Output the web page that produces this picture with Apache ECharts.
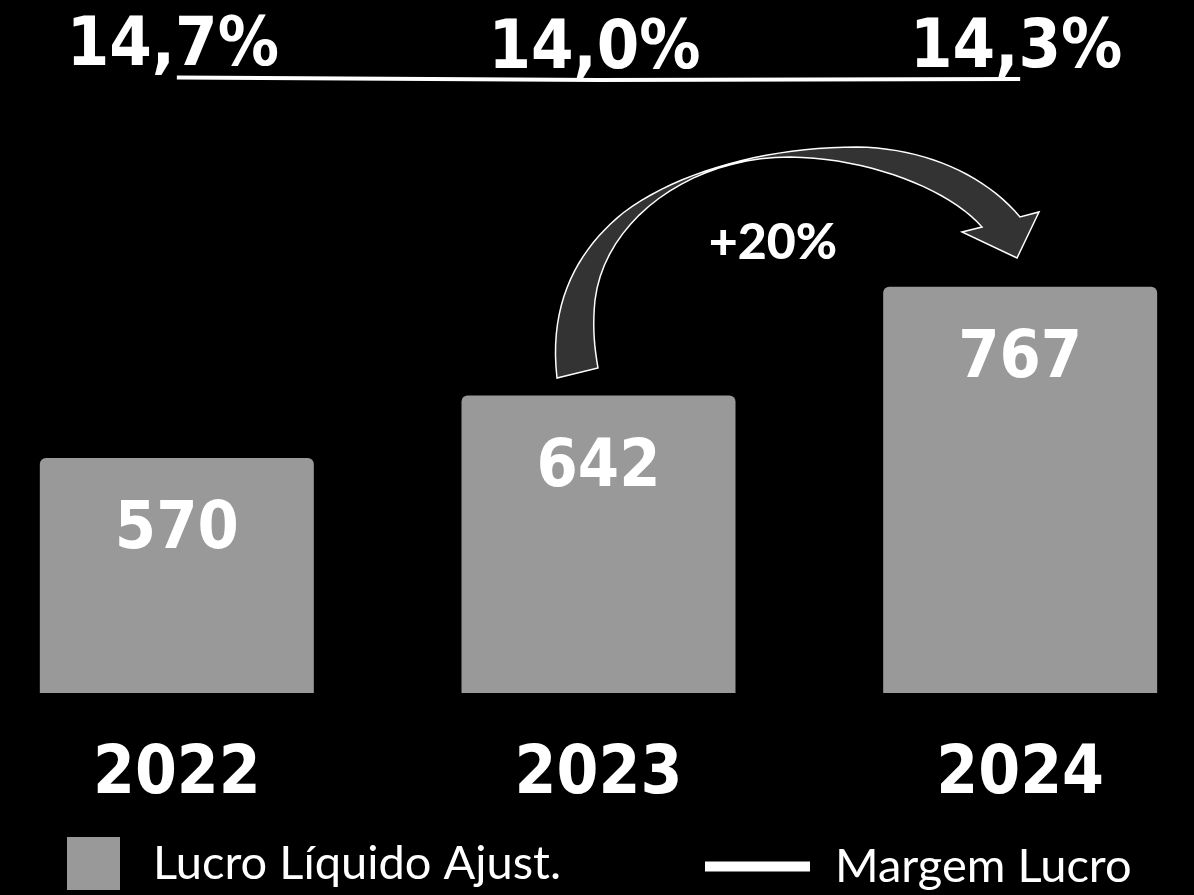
<!DOCTYPE html>
<html>
<head>
<meta charset="utf-8">
<script src="https://cdn.jsdelivr.net/npm/echarts@6/dist/echarts.min.js"></script>
<style>
  html, body { margin: 0; padding: 0; background: #000; }
  #chart { width: 1194px; height: 895px; }
</style>
</head>
<body>
<div id="chart"></div>
<script>
// dados
var anos = ["2022", "2023", "2024"];
var lucroLiquido = [570, 642, 767];
var margemLucro = [14.7, 14.0, 14.3];
var crescimento = "+20%";

var numFont = "'DejaVu Sans Condensed', 'DejaVu Sans', sans-serif";

// seta curva (decoração) - curvas de bezier amostradas em pontos
function bezier(p0, p1, p2, p3, n) {
  var pts = [];
  for (var i = 1; i <= n; i++) {
    var t = i / n, u = 1 - t;
    pts.push([
      u * u * u * p0[0] + 3 * u * u * t * p1[0] + 3 * u * t * t * p2[0] + t * t * t * p3[0],
      u * u * u * p0[1] + 3 * u * u * t * p1[1] + 3 * u * t * t * p2[1] + t * t * t * p3[1]
    ]);
  }
  return pts;
}
var seta = [[557, 378]]
  .concat(bezier([557, 378], [548, 300], [580, 248], [623, 213], 20))
  .concat(bezier([623, 213], [680, 170], [770, 147], [857, 147], 20))
  .concat(bezier([857, 147], [925, 148], [985, 175], [1020, 217], 20))
  .concat([[1039, 212], [1017, 258], [962, 232], [982, 227]])
  .concat(bezier([982, 227], [950, 190], [870, 158], [790, 157], 20))
  .concat(bezier([790, 157], [690, 157], [605, 220], [595, 300], 20))
  .concat(bezier([595, 300], [592, 330], [595, 350], [598, 368], 10));

var myChart = echarts.init(document.getElementById("chart"));
myChart.setOption({
  backgroundColor: "#000",
  animation: false,
  grid: [
    { left: -34, right: -37, top: 84, bottom: 202, outerBoundsMode: "none", containLabel: false },
    { left: -34, right: -37, top: 30, height: 100, outerBoundsMode: "none", containLabel: false }
  ],
  xAxis: [
    {
      type: "category",
      gridIndex: 0,
      data: anos,
      axisLine: { show: false },
      axisTick: { show: false },
      axisLabel: {
        color: "#fff",
        fontFamily: numFont,
        fontWeight: "bold",
        fontSize: 67,
        margin: 49
      }
    },
    {
      type: "category",
      gridIndex: 1,
      data: anos,
      show: false
    }
  ],
  yAxis: [
    { type: "value", gridIndex: 0, min: 300, max: 1000, show: false },
    { type: "value", gridIndex: 1, min: 0, max: 28, show: false }
  ],
  legend: [
    {
      data: ["Lucro Líquido Ajust."],
      left: 62,
      top: 832,
      icon: "rect",
      itemWidth: 53,
      itemHeight: 53,
      textStyle: { color: "#fff", fontFamily: "Lato", fontSize: 47, padding: [0, 0, 0, 28] }
    },
    {
      data: ["Margem Lucro"],
      left: 700,
      top: 838,
      icon: "rect",
      itemWidth: 105,
      itemHeight: 10,
      textStyle: { color: "#fff", fontFamily: "Lato", fontSize: 47, padding: [0, 0, 0, 20] }
    }
  ],
  series: [
    {
      name: "Lucro Líquido Ajust.",
      type: "bar",
      xAxisIndex: 0,
      yAxisIndex: 0,
      barWidth: 274,
      itemStyle: { color: "#999999", borderRadius: [6, 6, 0, 0] },
      label: {
        show: true,
        position: "insideTop",
        distance: 40,
        color: "#fff",
        fontFamily: numFont,
        fontWeight: "bold",
        fontSize: 66
      },
      data: lucroLiquido
    },
    {
      name: "Margem Lucro",
      type: "line",
      xAxisIndex: 1,
      yAxisIndex: 1,
      symbol: "circle",
      symbolSize: 0,
      showSymbol: true,
      clip: false,
      itemStyle: { color: "#fff" },
      lineStyle: { color: "#fff", width: 4 },
      label: {
        show: true,
        position: "top",
        distance: -4,
        offset: [-4, 0],
        color: "#fff",
        fontFamily: numFont,
        fontWeight: "bold",
        fontSize: 68,
        formatter: function (p) {
          return p.value.toFixed(1).replace(".", ",") + "%";
        }
      },
      data: margemLucro
    }
  ],
  graphic: [
    {
      type: "polygon",
      shape: { points: seta },
      style: { fill: "#333333", stroke: "#ffffff", lineWidth: 1.5 },
      z: 10
    },
    {
      type: "text",
      x: 773,
      y: 243,
      style: {
        text: crescimento,
        fill: "#fff",
        font: "900 50px Lato",
        align: "center",
        verticalAlign: "middle"
      },
      z: 11
    }
  ]
});
</script>
</body>
</html>
